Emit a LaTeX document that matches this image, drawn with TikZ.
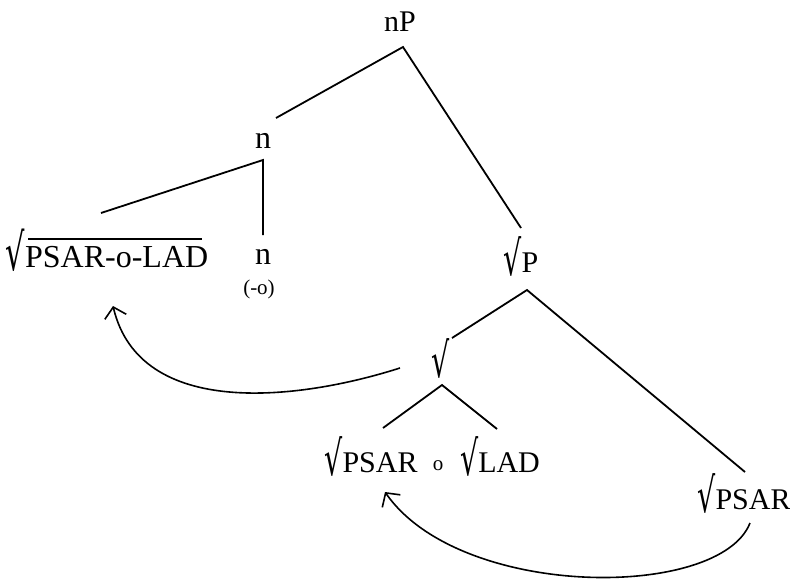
\documentclass[tikz,border=0pt]{standalone}
\usepackage{fontspec}
\setmainfont{Liberation Serif}
\newfontfamily\radfont{DejaVu Serif}
\newcommand{\rad}{\raisebox{-0.12em}{\scalebox{0.95}[1.6]{\radfont √}}}
\usetikzlibrary{arrows.meta,calc}
\tikzset{
  lbl/.style={inner sep=0pt, anchor=base, font=\fontsize{30}{34}\selectfont},
  biglbl/.style={lbl, font=\fontsize{32}{36}\selectfont},
  smalllbl/.style={lbl, font=\fontsize{21}{24}\selectfont},
  branch/.style={line width=1.8pt},
  move/.style={line width=1.6pt, -{Straight Barb[length=10pt,width=22pt,line width=1.6pt]}}
}
\begin{document}
\begin{tikzpicture}[x=1pt,y=-1pt]
\useasboundingbox (0,0) rectangle (790,586);
% labels
\node[lbl] (nP) at (400,32) {nP};
\node[biglbl] (n1) at (263,148) {n};
\node[biglbl] (root1) at (107,267) {\rad PSAR-o-LAD};
\node[biglbl] (n2) at (263,264) {n};
\node[smalllbl] (neg) at (259,294) {(-o)};
\node[lbl] (rP) at (521,272) {\rad P};
\node[lbl] (rmid) at (441,374) {\rad};
\node[lbl] (rPSARm) at (371,472) {\rad PSAR};
\node[smalllbl] (oo) at (438,470) {o};
\node[lbl] (rLAD) at (500,472) {\rad LAD};
\node[lbl] (rPSARr) at (744,509) {\rad PSAR};
% overline of the root
\coordinate (ovA) at (28,239);
\coordinate (ovB) at (202,239);
\draw[line width=1.4pt] (ovA) -- (ovB);
% branch points
\coordinate (nPb) at (403,47);
\coordinate (n1t) at (276,118);
\coordinate (rPt) at (521,228);
\coordinate (n1b) at (263,160);
\coordinate (rootT) at (101,213);
\coordinate (n2t) at (263,235);
\coordinate (rPb) at (527,290);
\coordinate (rmidT) at (452,338);
\coordinate (rPSARrT) at (745,472);
\coordinate (rmidB) at (442,385);
\coordinate (mLeft) at (383,428);
\coordinate (mRight) at (497,429);
\draw[branch] (n1t) -- (nPb) -- (rPt);
\draw[branch] (rootT) -- (n1b) -- (n2t);
\draw[branch] (rmidT) -- (rPb) -- (rPSARrT);
\draw[branch] (mLeft) -- (rmidB) -- (mRight);
% movement arrows
\coordinate (a1s) at (400,368);
\coordinate (a1e) at (113,306);
\coordinate (a2s) at (750,523);
\coordinate (a2e) at (385,492);
\draw[move] (a1s) .. controls (300,400) and (140,420) .. (a1e);
\draw[move] (a2s) .. controls (720,600) and (460,600) .. (a2e);
\end{tikzpicture}
\end{document}
